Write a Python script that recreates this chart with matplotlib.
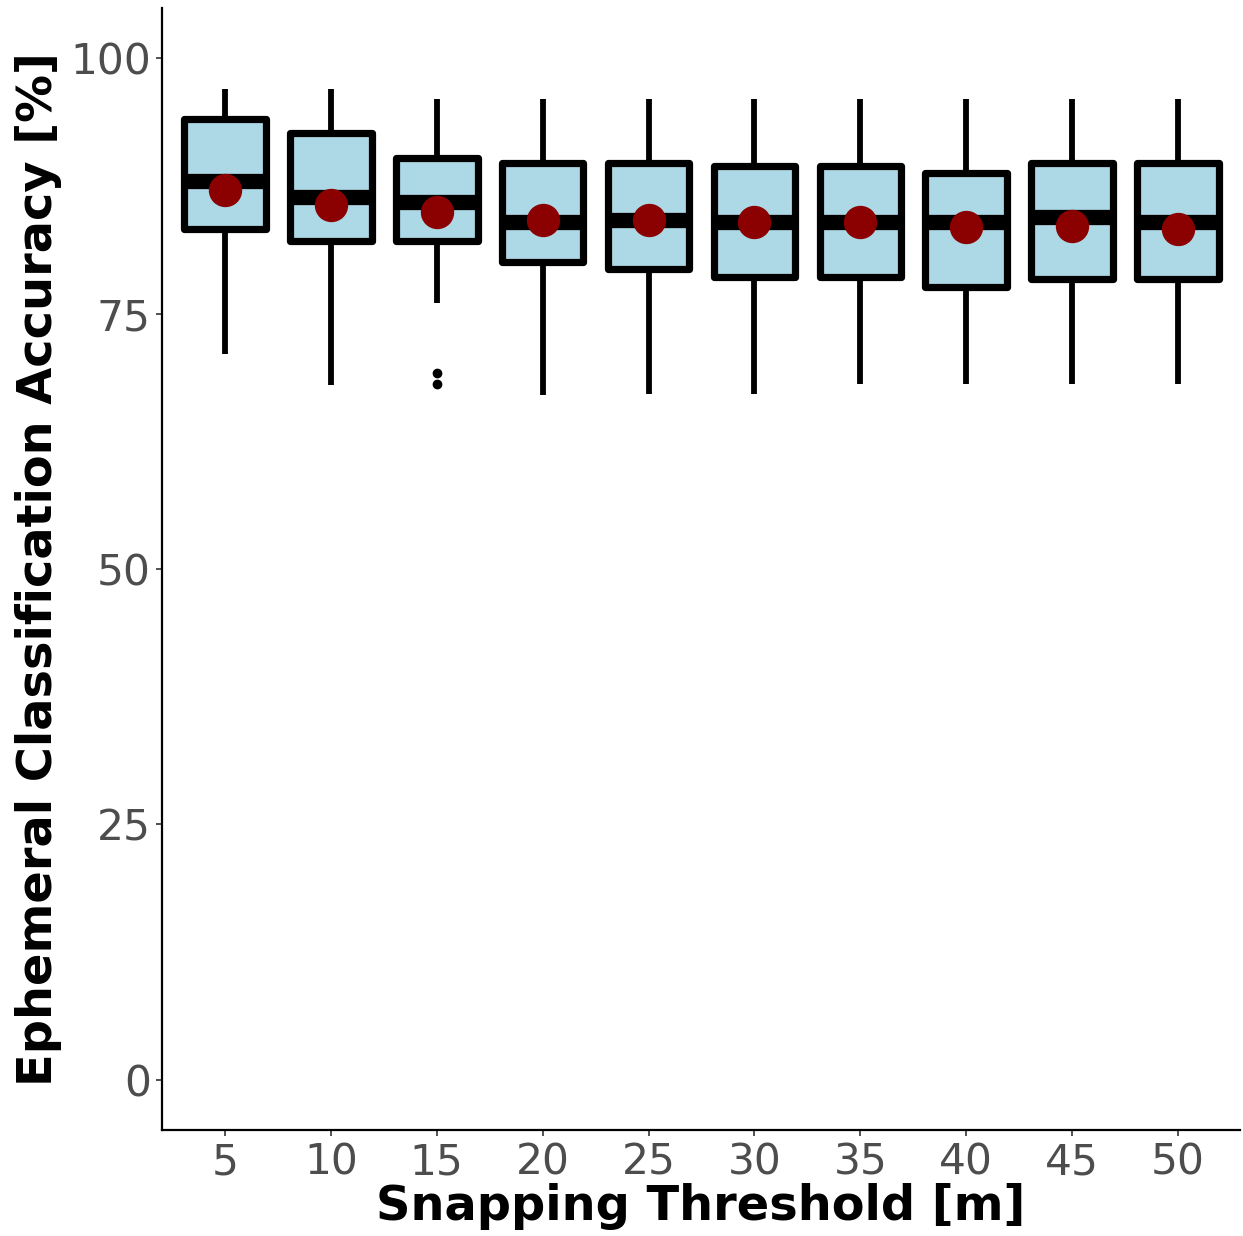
import numpy as np
import matplotlib.pyplot as plt

thresholds = ['5', '10', '15', '20', '25', '30', '35', '40', '45', '50']
whisker_low = [71.0, 68.0, 76.0, 67.0, 67.1, 67.1, 68.1, 68.1, 68.1, 68.1]
q1 = [83.3, 82.1, 82.1, 80.0, 79.4, 78.6, 78.6, 77.6, 78.4, 78.4]
median = [88.0, 86.4, 85.9, 84.0, 84.2, 84.0, 84.0, 84.0, 84.4, 84.0]
q3 = [94.0, 92.7, 90.2, 89.7, 89.7, 89.4, 89.4, 88.8, 89.7, 89.7]
whisker_high = [97.0, 97.0, 96.0, 96.0, 96.0, 96.0, 96.0, 96.0, 96.0, 96.0]
mean = [87.1, 85.6, 84.9, 84.2, 84.2, 84.0, 84.0, 83.5, 83.6, 83.3]
outliers = [[], [], [69.2, 68.1], [], [], [], [], [], [], []]

stats = []
for i in range(len(thresholds)):
    stats.append(dict(whislo=whisker_low[i], q1=q1[i], med=median[i], q3=q3[i],
                      whishi=whisker_high[i], fliers=outliers[i], label=thresholds[i]))

fig = plt.figure(figsize=(12.43, 12.36), dpi=100)
ax = fig.add_axes([0.1303, 0.0858, 0.8673, 0.9077])

pos = np.arange(1, len(thresholds) + 1)
ax.bxp(stats, positions=pos, widths=0.77, patch_artist=True, showcaps=False,
       boxprops=dict(facecolor='#add8e6', edgecolor='black', linewidth=5.2, joinstyle='round'),
       whiskerprops=dict(color='black', linewidth=4.2, solid_capstyle='butt'),
       medianprops=dict(color='black', linewidth=11, solid_capstyle='butt'),
       flierprops=dict(marker='o', markerfacecolor='black', markeredgecolor='black', markersize=6))
ax.plot(pos, mean, 'o', color='#8b0000', markersize=23, zorder=5)

ax.set_xlim(0.405, 10.585)
ax.set_ylim(-4.9, 104.9)
ax.set_yticks([0, 25, 50, 75, 100])
ax.set_xticks(pos)
ax.set_xticklabels(thresholds)

for s in ['top', 'right']:
    ax.spines[s].set_visible(False)
for s in ['left', 'bottom']:
    ax.spines[s].set_linewidth(1.6)
ax.tick_params(colors='#333333', labelcolor='#4d4d4d', labelsize=30.5, length=4, width=1.2, pad=4)

ax.set_xlabel('Snapping Threshold [m]', fontsize=34.5, fontweight='bold', labelpad=0)
ax.set_ylabel('Ephemeral Classification Accuracy [%]', fontsize=34.5, fontweight='bold', labelpad=6)

plt.savefig('out.png', dpi=100)
